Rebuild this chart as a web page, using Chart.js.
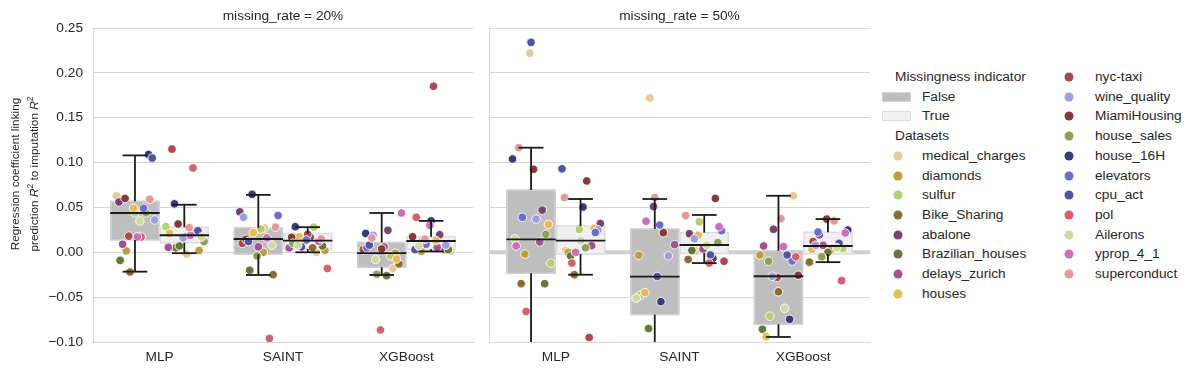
<!DOCTYPE html>
<html>
<head>
<meta charset="utf-8">
<script src="https://cdn.jsdelivr.net/npm/chart.js@4.4.1/dist/chart.umd.min.js"></script>
<style>
  body { margin: 0; background: #fff; width: 1195px; height: 374px; overflow: hidden; position: relative;
         font-family: "Liberation Sans", Arial, sans-serif; color: #262626; }
  canvas { position: absolute; top: 0; }
  #left { left: 0; }
  #right { left: 480px; }
  .lg { position: absolute; font-size: 13.7px; line-height: 16px; white-space: nowrap; transform: translateY(-50%); }
  .dot { position: absolute; width: 9px; height: 9px; border-radius: 50%; transform: translate(-50%, -50%); }
  .patch { position: absolute; width: 27px; height: 8px; transform: translateY(-50%); }
</style>
</head>
<body>
<canvas id="left" width="480" height="374"></canvas>
<canvas id="right" width="400" height="374"></canvas>
<div id="legend"></div>
<script>
// categories
const models = ['MLP', 'SAINT', 'XGBoost'];
const datasetNames = ['medical_charges', 'diamonds', 'sulfur', 'Bike_Sharing', 'abalone', 'Brazilian_houses',
  'delays_zurich', 'houses', 'nyc-taxi', 'wine_quality', 'MiamiHousing', 'house_sales', 'house_16H',
  'elevators', 'cpu_act', 'pol', 'Ailerons', 'yprop_4_1', 'superconduct'];
const datasetColors = ['#e7cb94', '#bd9e39', '#b5cf6b', '#8c6d31', '#7b4173', '#637939',
  '#a55194', '#e7ba52', '#ad494a', '#9c9ede', '#843c39', '#8ca252', '#393b79',
  '#6b6ecf', '#5254a3', '#d6616b', '#cedb9c', '#ce6dbd', '#e7969c'];
const yTicks = [-0.10, -0.05, 0.00, 0.05, 0.10, 0.15, 0.20, 0.25];

// per-dataset coefficients (order of datasetNames), missing_rate = 20%
const mlpFalse20   = [0.063, 0.0015, 0.044, -0.022, 0.056, -0.009, 0.009, 0.049, 0.018, 0.036, 0.060, 0.044, 0.109, 0.049, 0.105, 0.017, 0.035, 0.017, 0.059];
const mlpTrue20    = [-0.002, 0.002, 0.0285, 0.005, 0.017, 0.007, 0.0056, 0.021, 0.115, 0.016, 0.0315, 0.012, 0.054, 0.022, 0.024, 0.094, 0.017, 0.019, 0.0275];
const saintFalse20 = [0.027, 0.000, 0.026, -0.025, 0.045, -0.020, 0.006, 0.022, 0.010, 0.039, 0.0145, -0.004, 0.0646, 0.041, 0.012, -0.096, 0.008, 0.016, 0.028];
const saintTrue20  = [0.000, 0.002, 0.028, 0.005, 0.017, 0.007, 0.0048, 0.0174, 0.020, 0.011, 0.0167, 0.010, 0.0285, 0.0137, 0.006, -0.018, 0.008, 0.012, 0.015];
const xgbFalse20   = [-0.018, -0.001, -0.004, -0.013, 0.0245, -0.026, 0.006, -0.0075, 0.003, 0.019, 0.0037, -0.0245, 0.021, 0.005, 0.008, -0.0866, -0.008, 0.0438, 0.016];
const xgbTrue20    = [0.0015, 0.001, 0.005, 0.003, 0.0196, 0.003, 0.0056, 0.013, 0.185, 0.008, 0.0174, 0.012, 0.035, 0.009, 0.003, 0.039, 0.007, 0.030, 0.0145];

// missing_rate = 50%
const mlpFalse50   = [0.222, -0.002, -0.012, -0.035, 0.047, -0.035, 0.0115, 0.031, -0.12, 0.037, 0.0925, 0.020, 0.104, 0.039, 0.234, -0.066, 0.015, 0.007, 0.1166];
const mlpTrue50    = [0.002, 0.000, 0.0256, -0.025, 0.032, -0.004, 0.0074, 0.0267, -0.095, 0.025, 0.0795, 0.005, 0.0505, 0.022, 0.093, -0.012, 0.013, 0.000, 0.061];
const saintFalse50 = [0.172, -0.0034, -0.048, -0.11, 0.051, -0.085, 0.0085, -0.045, -0.12, -0.004, 0.0219, -0.105, -0.055, 0.0304, -0.027, -0.14, -0.051, 0.0346, 0.061];
const saintTrue50  = [0.0015, 0.003, 0.034, -0.008, 0.0207, 0.002, 0.0037, 0.019, -0.010, 0.015, 0.060, 0.0107, -0.0067, 0.024, -0.003, -0.012, 0.008, 0.0285, 0.041];
const xgbFalse50   = [0.063, -0.003, -0.0713, -0.044, 0.0256, -0.0858, 0.007, -0.094, -0.028, -0.0267, -0.0256, -0.010, -0.0747, -0.0097, -0.003, -0.005, -0.0625, 0.0063, 0.0375];
const xgbTrue50    = [0.005, 0.002, 0.004, -0.011, 0.0196, 0.000, 0.0078, 0.0033, 0.012, 0.0078, 0.037, -0.005, 0.0248, 0.0226, 0.010, -0.0316, 0.005, 0.0215, 0.035];

// box summaries [low whisker, q1, median, q3, high whisker] for MLP, SAINT, XGBoost
const boxFalse20 = [[-0.0216, 0.0137, 0.0438, 0.057, 0.108], [-0.0253, -0.0022, 0.0148, 0.0274, 0.064], [-0.0253, -0.0167, -0.001, 0.011, 0.0438]];
const boxTrue20  = [[-0.001, 0.0107, 0.019, 0.0279, 0.053], [0.000, 0.0037, 0.013, 0.021, 0.028], [0.001, 0.0033, 0.0126, 0.0174, 0.035]];
const boxFalse50 = [[-0.16, -0.0234, 0.0145, 0.0694, 0.1166], [-0.14, -0.0695, -0.0272, 0.026, 0.0594], [-0.0944, -0.0803, -0.0267, 0.0018, 0.063]];
const boxTrue50  = [[-0.025, -0.002, 0.013, 0.0293, 0.0594], [-0.012, -0.001, 0.0081, 0.0219, 0.0416], [-0.011, -0.002, 0.007, 0.0223, 0.037]];

const FONT = '"Liberation Sans", Arial, sans-serif';
Chart.defaults.font.family = FONT;
Chart.defaults.font.size = 13.7;
Chart.defaults.color = '#262626';

const gridColor = '#d6d6d6';
const hueOffset = [-0.2, 0.2];
const boxFill = ['#bebebe', '#f0f0f0'];
const boxEdge = ['#d2d2d2', '#dcdcdc'];
// fixed spread for the strip points (style only)
const spread = [-0.15, 0.09, -0.04, 0.14, -0.10, 0.02, 0.16, -0.07, 0.11, -0.13, 0.05, -0.01, 0.12, -0.08, 0.00, 0.07, -0.12, 0.04, -0.05];

function fmtTick(v) {
  return (v < 0 ? '\u2212' : '') + Math.abs(v).toFixed(2);
}

function drawYLabel(ctx) {
  const lines = [
    [{ t: 'Regression coefficient linking' }],
    [{ t: 'prediction ' }, { t: 'R', it: true }, { t: '2', sup: true }, { t: ' to imputation ' }, { t: 'R', it: true }, { t: '2', sup: true }]
  ];
  const xs = [16, 35];
  ctx.save();
  ctx.fillStyle = '#262626';
  ctx.textBaseline = 'middle';
  lines.forEach((segs, i) => {
    ctx.save();
    ctx.translate(xs[i], 174);
    ctx.rotate(-Math.PI / 2);
    const fontOf = s => s.sup ? '8.5px ' + FONT : (s.it ? 'italic ' : '') + '11.8px ' + FONT;
    let total = 0;
    segs.forEach(s => { ctx.font = fontOf(s); total += ctx.measureText(s.t).width; });
    let x = -total / 2;
    segs.forEach(s => {
      ctx.font = fontOf(s);
      ctx.fillText(s.t, x, s.sup ? -4 : 0);
      x += ctx.measureText(s.t).width;
    });
    ctx.restore();
  });
  ctx.restore();
}

function makePanel(id, title, groups, boxes, isLeft) {
  const datasets = datasetNames.map((name, d) => {
    const data = [];
    groups.forEach((pair, m) => {
      pair.forEach((vals, h) => {
        const g = m * 2 + h + (isLeft ? 0 : 6);
        data.push({ x: m + hueOffset[h] + spread[(d * 7 + g * 5) % 19], y: vals[d] });
      });
    });
    return {
      label: name,
      data: data,
      backgroundColor: datasetColors[d],
      borderColor: '#ffffff',
      borderWidth: 0.9,
      pointRadius: 4.3,
      clip: 0,
      order: datasetNames.length - d
    };
  });

  const boxPlugin = {
    id: 'boxes' + id,
    beforeDatasetsDraw(chart) {
      const { ctx, chartArea: a, scales: { x, y } } = chart;
      ctx.save();
      ctx.beginPath();
      ctx.rect(a.left, a.top, a.right - a.left, a.bottom - a.top);
      ctx.clip();
      if (!isLeft) {
        ctx.strokeStyle = '#cfcfcf';
        ctx.lineWidth = 4;
        ctx.beginPath();
        ctx.moveTo(a.left, y.getPixelForValue(0));
        ctx.lineTo(a.right, y.getPixelForValue(0));
        ctx.stroke();
      }
      boxes.forEach((stats, h) => {
        stats.forEach((s, m) => {
          const x0 = x.getPixelForValue(m + hueOffset[h] - 0.2);
          const x1 = x.getPixelForValue(m + hueOffset[h] + 0.2);
          const yq3 = y.getPixelForValue(s[3]);
          const yq1 = y.getPixelForValue(s[1]);
          ctx.fillStyle = boxFill[h];
          ctx.fillRect(x0, yq3, x1 - x0, yq1 - yq3);
          ctx.strokeStyle = boxEdge[h];
          ctx.lineWidth = 1.5;
          ctx.strokeRect(x0 + 0.75, yq3, x1 - x0 - 1.5, yq1 - yq3);
        });
      });
      ctx.restore();
    },
    afterDatasetsDraw(chart) {
      const { ctx, chartArea: a, scales: { x, y } } = chart;
      ctx.save();
      ctx.beginPath();
      ctx.rect(a.left, a.top, a.right - a.left, a.bottom - a.top);
      ctx.clip();
      ctx.strokeStyle = '#1a1a1a';
      ctx.lineWidth = 1.8;
      boxes.forEach((stats, h) => {
        stats.forEach((s, m) => {
          const c = m + hueOffset[h];
          const xc = x.getPixelForValue(c);
          const seg = (xa, ya, xb, yb) => { ctx.beginPath(); ctx.moveTo(xa, ya); ctx.lineTo(xb, yb); ctx.stroke(); };
          seg(xc, y.getPixelForValue(s[3]), xc, y.getPixelForValue(s[4]));
          seg(xc, y.getPixelForValue(s[1]), xc, y.getPixelForValue(s[0]));
          seg(x.getPixelForValue(c - 0.1), y.getPixelForValue(s[4]), x.getPixelForValue(c + 0.1), y.getPixelForValue(s[4]));
          seg(x.getPixelForValue(c - 0.1), y.getPixelForValue(s[0]), x.getPixelForValue(c + 0.1), y.getPixelForValue(s[0]));
          seg(x.getPixelForValue(c - 0.2), y.getPixelForValue(s[2]), x.getPixelForValue(c + 0.2), y.getPixelForValue(s[2]));
        });
      });
      ctx.restore();
    },
    afterDraw(chart) {
      const { ctx, chartArea: a } = chart;
      ctx.save();
      ctx.fillStyle = '#262626';
      ctx.font = '13.7px ' + FONT;
      ctx.textAlign = 'center';
      ctx.textBaseline = 'middle';
      ctx.fillText(title, (a.left + a.right) / 2, 16);
      ctx.restore();
      if (isLeft) drawYLabel(ctx);
    }
  };

  return new Chart(document.getElementById(id), {
    type: 'scatter',
    data: { datasets: datasets },
    options: {
      responsive: false,
      animation: false,
      events: [],
      layout: { padding: { left: 0, right: isLeft ? 7 : 10, top: 28, bottom: 0 } },
      plugins: { legend: { display: false }, tooltip: { enabled: false }, title: { display: false } },
      scales: {
        x: {
          type: 'linear',
          min: -0.54,
          max: 2.54,
          afterBuildTicks: s => { s.ticks = models.map((_, i) => ({ value: i })); },
          afterFit: s => { s.height = 32; },
          ticks: { callback: v => models[v], padding: 7, maxRotation: 0, color: '#262626' },
          grid: { display: false, drawTicks: false },
          border: { display: true, color: gridColor, width: 1 }
        },
        y: {
          min: -0.10,
          max: 0.25,
          afterBuildTicks: s => { s.ticks = yTicks.map(v => ({ value: v })); },
          afterFit: s => { s.width = isLeft ? 93 : 9; },
          ticks: { display: isLeft, callback: v => fmtTick(v), padding: 10, color: '#262626' },
          grid: { color: gridColor, lineWidth: 1, drawTicks: false },
          border: { display: true, color: gridColor, width: 1 }
        }
      }
    },
    plugins: [boxPlugin]
  });
}

makePanel('left', 'missing_rate = 20%',
  [[mlpFalse20, mlpTrue20], [saintFalse20, saintTrue20], [xgbFalse20, xgbTrue20]],
  [boxFalse20, boxTrue20], true);
makePanel('right', 'missing_rate = 50%',
  [[mlpFalse50, mlpTrue50], [saintFalse50, saintTrue50], [xgbFalse50, xgbTrue50]],
  [boxFalse50, boxTrue50], false);

// legend
const legend = document.getElementById('legend');
const rowTop = 77, rowStep = 19.7;
function addText(txt, x, row) {
  const el = document.createElement('div');
  el.className = 'lg';
  el.textContent = txt;
  el.style.left = x + 'px';
  el.style.top = (rowTop + row * rowStep) + 'px';
  legend.appendChild(el);
}
function addDot(color, x, row) {
  const el = document.createElement('div');
  el.className = 'dot';
  el.style.background = color;
  el.style.left = x + 'px';
  el.style.top = (rowTop + row * rowStep) + 'px';
  legend.appendChild(el);
}
function addPatch(fill, edge, row) {
  const el = document.createElement('div');
  el.className = 'patch';
  el.style.background = fill;
  el.style.border = '1px solid ' + edge;
  el.style.left = '882px';
  el.style.top = (rowTop + row * rowStep) + 'px';
  legend.appendChild(el);
}
addText('Missingness indicator', 895, 0);
addPatch(boxFill[0], boxEdge[0], 1); addText('False', 922, 1);
addPatch(boxFill[1], boxEdge[1], 2); addText('True', 922, 2);
addText('Datasets', 895, 3);
datasetNames.forEach((name, d) => {
  if (d < 8) { addDot(datasetColors[d], 898, 4 + d); addText(name, 922, 4 + d); }
  else { addDot(datasetColors[d], 1069, d - 8); addText(name, 1095, d - 8); }
});
</script>
</body>
</html>
